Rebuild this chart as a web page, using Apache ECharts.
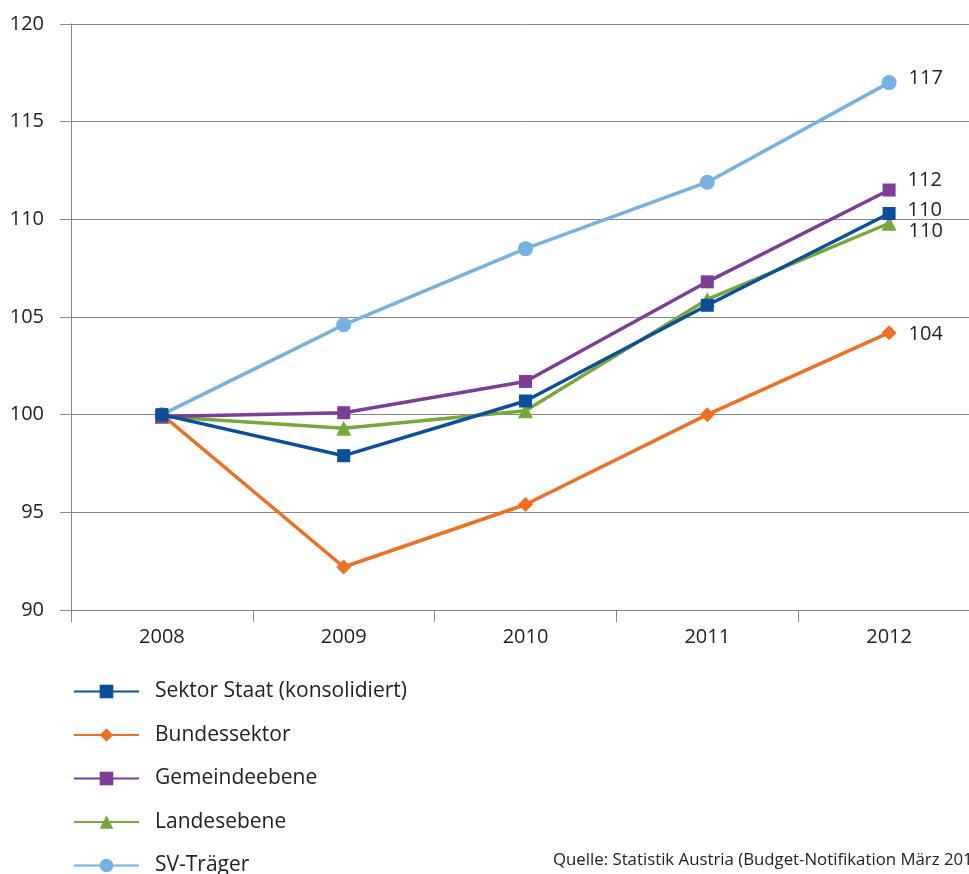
<!DOCTYPE html>
<html><head><meta charset="utf-8">
<script src="https://cdn.jsdelivr.net/npm/echarts@6/dist/echarts.min.js"></script>
<style>html,body{margin:0;padding:0;background:#fff;overflow:hidden}#c{width:980px;height:874px}</style>
</head><body><div id="c"></div>
<script>
const years = ['2008','2009','2010','2011','2012'];
const sektorStaat = [100, 97.9, 100.7, 105.6, 110.3];
const bundessektor = [100, 92.2, 95.4, 100.0, 104.2];
const gemeindeebene = [99.9, 100.1, 101.7, 106.8, 111.5];
const landesebene = [99.9, 99.3, 100.2, 105.9, 109.8];
const svTraeger = [100, 104.6, 108.5, 111.9, 117.0];
const endLabels = ['110', '104', '112', '110', '117'];
const seriesNames = ['Sektor Staat (konsolidiert)', 'Bundessektor', 'Gemeindeebene', 'Landesebene', 'SV-Träger'];
const source = 'Quelle: Statistik Austria (Budget-Notifikation März 2013)';

const FONT = '"Open Sans", sans-serif';
const colors = ['#0a4f9c', '#f07023', '#7c3f98', '#77a83a', '#75b1e1'];
const symbols = ['rect', 'diamond', 'rect', 'triangle', 'circle'];
const symSizes = [13, 15, 13, 15, 15];
const labelOffsets = [[0, -3], [0, 2], [0, -10], [0, 8], [0, -4]];
const data = [sektorStaat, bundessektor, gemeindeebene, landesebene, svTraeger];
const zs = [10, 6, 8, 7, 5];

const series = data.map((d, i) => ({
  name: seriesNames[i],
  type: 'line',
  data: d.map((v, j) => j === d.length - 1 ? {
    value: v,
    label: { show: true, position: 'right', distance: 12, offset: labelOffsets[i],
      formatter: endLabels[i], color: '#222', fontSize: 20, fontFamily: FONT }
  } : v),
  symbol: symbols[i],
  symbolSize: symSizes[i],
  showAllSymbol: true,
  z: zs[i],
  lineStyle: { width: 3.5, color: colors[i] },
  itemStyle: { color: colors[i] },
  emphasis: { disabled: true },
  animation: false
}));

const chart = echarts.init(document.getElementById('c'), null, { renderer: 'canvas' });
chart.setOption({
  animation: false,
  grid: { left: 71, top: 24, right: 0, bottom: 264, containLabel: false },
  xAxis: {
    type: 'category', data: years, boundaryGap: true,
    axisLine: { show: true, lineStyle: { color: '#888', width: 1 } },
    axisTick: { show: true, length: 12, lineStyle: { color: '#888' } },
    axisLabel: { color: '#222', fontSize: 20, fontFamily: FONT, margin: 17 }
  },
  yAxis: {
    type: 'value', min: 90, max: 120, interval: 5,
    axisLine: { show: true, lineStyle: { color: '#888', width: 1 } },
    axisTick: { show: true, length: 11, inside: false, lineStyle: { color: '#888' } },
    axisLabel: { color: '#222', fontSize: 20, fontFamily: FONT, margin: 27 },
    splitLine: { show: true, lineStyle: { color: '#888', width: 1 } }
  },
  legend: {
    orient: 'vertical', left: 73, top: 681, itemGap: 22.5, padding: 0,
    height: 260,
    itemWidth: 65, itemHeight: 17,
    data: seriesNames,
    textStyle: { color: '#222', fontSize: 21, fontFamily: FONT, padding: [0, 0, 0, 11] },
    selectedMode: false
  },
  graphic: [{
    type: 'text', left: 553, top: 852,
    style: { text: source, fill: '#222', fontSize: 16.8, fontFamily: FONT }
  }],
  series: series
});
</script></body></html>
